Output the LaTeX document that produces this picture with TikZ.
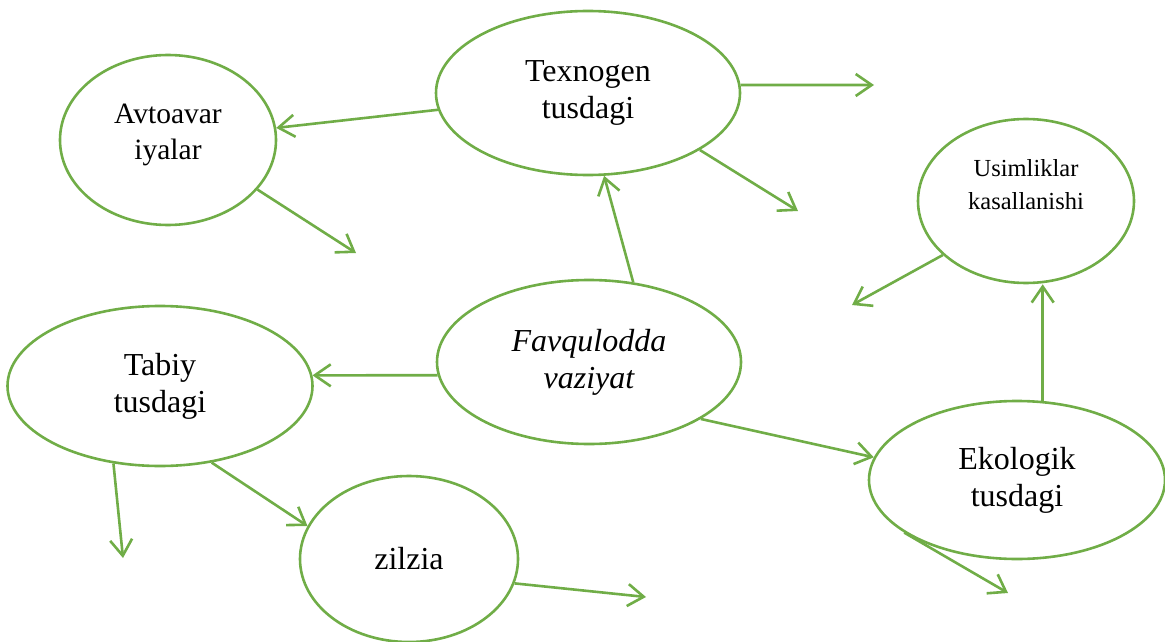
\documentclass[tikz,border=0pt]{standalone}
\usepackage{fontspec}
\setmainfont{Liberation Serif}
\usetikzlibrary{arrows.meta,shapes.geometric}
\definecolor{verde}{HTML}{70AD47}
\begin{document}
\begin{tikzpicture}[x=1pt,y=-1pt,
    elipse/.style={draw=verde, line width=2.6pt, ellipse, inner sep=0pt, align=center,
                   font=\fontsize{32}{37}\selectfont},
    flecha/.style={draw=verde, line width=2.6pt, -{Straight Barb[length=16pt,width=22pt,line width=2.6pt]}}]
              \useasboundingbox (0,0) rectangle (1165,642);

              % Elipses
              \node[elipse, minimum width=304pt, minimum height=164pt] (fav) at (589,362) {\itshape Favqulodda\\\itshape vaziyat};
              \node[elipse, minimum width=304pt, minimum height=164pt] (tex) at (588,93) {Texnogen\\tusdagi};
              \node[elipse, minimum width=216pt, minimum height=170pt, font=\fontsize{29.5}{36}\selectfont] (avto) at (168,140) {Avtoavar\\iyalar\\[-30pt]\strut};
              \node[elipse, minimum width=216pt, minimum height=164pt, font=\fontsize{24.5}{33}\selectfont] (usim) at (1026,201) {Usimliklar\\kasallanishi\\[-10pt]\strut};
              \node[elipse, minimum width=305pt, minimum height=160pt] (tabiy) at (160,386) {Tabiy\\tusdagi};
              \node[elipse, minimum width=296pt, minimum height=158pt] (eko) at (1017,480) {Ekologik\\tusdagi};
              \node[elipse, minimum width=218pt, minimum height=166pt] (zil) at (409,559) {zilzia};

              % Extremos libres
              \coordinate (t1) at (874,85);
              \coordinate (t2) at (798,211);
              \coordinate (a1) at (356,253);
              \coordinate (u1) at (852,305);
              \coordinate (e1) at (1008,593);
              \coordinate (b1) at (123,558);
              \coordinate (z1) at (646,597);

              % Flechas
              \draw[flecha] (fav.61) -- (tex.281);
              \draw[flecha] (fav.185) -- (tabiy.4);
              \draw[flecha] (fav.333) -- (eko.171);
              \draw[flecha] (tex) -- (avto);
              \draw[flecha] (tex.3) -- (t1);
              \draw[flecha] (tex.333) -- (t2);
              \draw[flecha] (avto.331) -- (a1);
              \draw[flecha] (eko.72) -- (eko.72 |- usim.south);
              \draw[flecha] (usim.213) -- (u1);
              \draw[flecha] (eko.205) -- (e1);
              \draw[flecha] (tabiy.239) -- (b1);
              \draw[flecha] (tabiy.304) -- (zil.162);
              \draw[flecha] (zil.347) -- (z1);

            \end{tikzpicture}
\end{document}
